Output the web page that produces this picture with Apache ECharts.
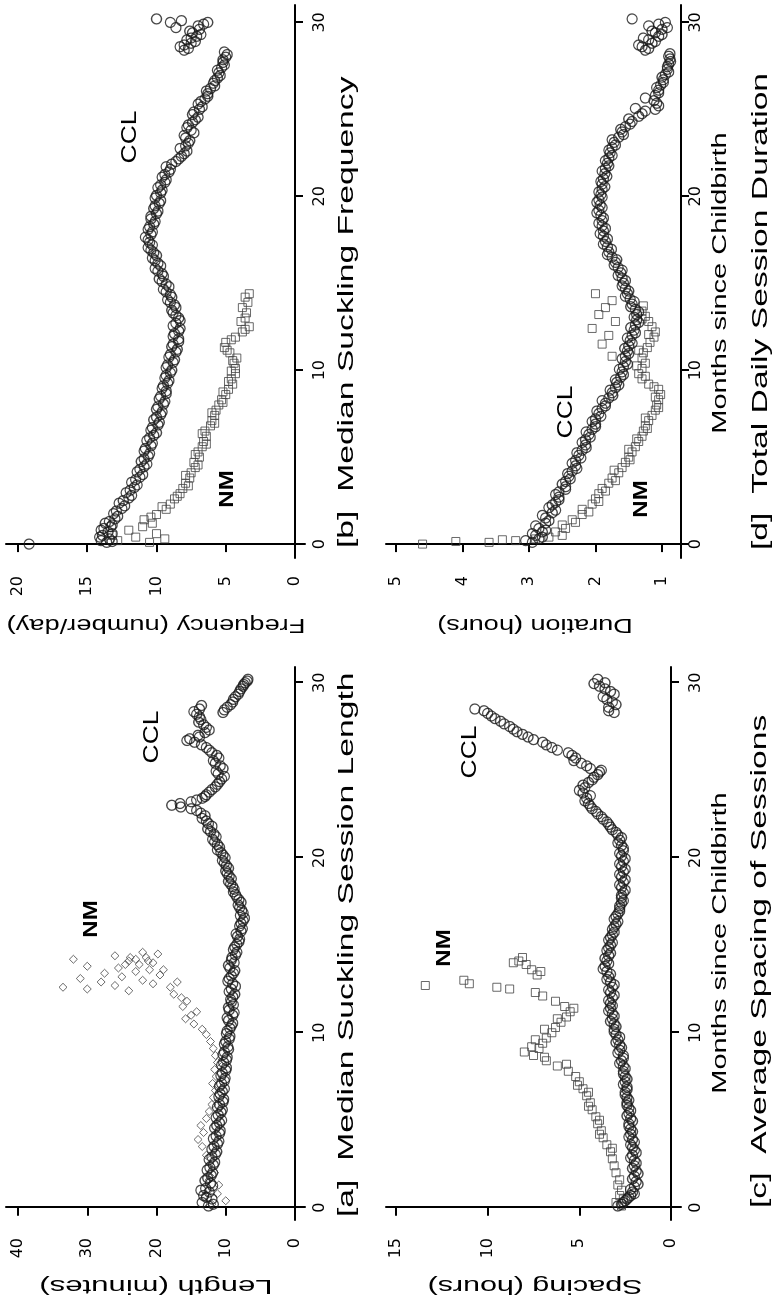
<!DOCTYPE html>
<html>
<head>
<meta charset="utf-8">
<script src="https://cdn.jsdelivr.net/npm/echarts@6/dist/echarts.min.js"></script>
<style>
  html, body { margin: 0; padding: 0; background: #fff; overflow: hidden; }
  body { width: 772px; height: 1305px; position: relative; }
  /* the figure is laid out upright (1305 x 772) and turned a quarter turn left */
  #chart {
    position: absolute; left: 0; top: 0;
    width: 1305px; height: 772px;
    transform-origin: 0 0;
    transform: translateY(1305px) rotate(-90deg);
  }
</style>
</head>
<body>
<div id="chart"></div>
<script>
'use strict';

const monthTicks = [0, 10, 20, 30];
const lengthTicks = [0, 10, 20, 30, 40];
const frequencyTicks = [0, 5, 10, 15, 20];
const spacingTicks = [0, 5, 10, 15];
const durationTicks = [1, 2, 3, 4, 5];

// [month, value] -- CCL points are read along both edges of the dense band
const lengthCCL = [[0.1,12.5],[0.3,13.4],[0.5,12.0],[0.7,13.2],[0.9,12.4],[1.1,12.9],[1.4,12.2],[1.7,12.6],[2.0,11.9],[2.3,12.3],[2.6,11.6],[2.9,12.0],[3.2,11.3],[3.5,11.7],[3.8,11.0],[4.1,11.4],[4.4,10.8],[4.7,11.3],[5.0,10.6],[5.3,11.1],[5.6,10.5],[5.9,10.9],[6.2,10.3],[6.5,10.8],[6.8,10.2],[7.1,10.6],[7.4,10.1],[7.7,10.5],[8.0,9.9],[8.3,10.3],[8.6,9.8],[8.9,10.2],[9.2,9.7],[9.5,10.0],[9.8,9.4],[10.1,9.8],[10.4,9.2],[10.7,9.6],[11.0,9.0],[11.3,9.5],[11.6,8.9],[11.9,9.3],[12.2,8.7],[12.5,9.2],[12.8,9.0],[13.1,9.5],[13.4,8.9],[13.7,9.4],[14.0,8.8],[14.3,9.1],[14.6,8.4],[14.9,8.7],[15.2,8.1],[15.5,8.3],[15.8,7.8],[16.1,8.0],[16.4,7.5],[16.7,7.9],[17.0,7.7],[17.3,8.2],[17.6,8.1],[17.9,8.6],[18.2,8.8],[18.5,9.3],[18.8,9.2],[19.1,9.8],[19.4,9.6],[19.7,10.2],[20.0,10.1],[20.3,10.7],[20.6,10.9],[20.9,11.6],[21.2,11.4],[21.5,12.2],[21.8,12.0],[22.1,12.8],[22.4,13.0],[22.7,14.2],[22.9,16.5],[23.0,17.8],[23.2,15.0],[23.4,13.4],[23.6,12.8],[23.9,12.0],[24.2,11.2],[24.5,10.6],[24.8,11.1],[25.1,10.4],[25.4,11.5],[25.7,11.0],[26.0,12.0],[26.3,12.8],[26.6,14.5],[26.8,15.2],[27.0,14.0],[27.3,12.4],[27.6,13.2],[27.9,13.6],[28.2,14.2],[28.5,13.8],[28.7,13.5],[28.3,10.4],[28.6,9.8],[28.9,9.0],[29.2,8.6],[29.5,8.0],[29.8,7.5],[30.0,7.2],[30.2,6.8]];
const lengthCCLEdge = [[0.2,11.8],[0.6,12.8],[1.0,13.6],[1.25,11.9],[1.55,13.0],[1.85,12.1],[2.15,12.7],[2.45,11.8],[2.75,12.4],[3.05,11.5],[3.35,12.0],[3.65,11.2],[3.95,11.8],[4.25,10.9],[4.55,11.6],[4.85,10.9],[5.15,11.4],[5.45,10.7],[5.75,11.2],[6.05,10.4],[6.35,11.0],[6.65,10.5],[6.95,10.9],[7.25,10.2],[7.55,10.7],[7.85,10.0],[8.15,10.6],[8.45,9.9],[8.75,10.4],[9.05,9.6],[9.35,10.2],[9.65,9.5],[9.95,9.9],[10.25,9.4],[10.55,9.0],[10.85,9.8],[11.15,8.8],[11.45,9.6],[11.75,9.2],[12.05,9.0],[12.35,9.5],[12.65,8.6],[12.95,9.7],[13.25,9.2],[13.55,8.7],[13.85,9.6],[14.15,9.2],[14.45,8.6],[14.75,8.9],[15.05,8.4],[15.35,8.0],[15.65,8.5],[15.95,7.6],[16.25,7.8],[16.55,7.3],[16.85,7.5],[17.15,8.0],[17.45,7.8],[17.75,8.4],[18.05,8.9],[18.35,9.0],[18.65,9.6],[18.95,9.5],[19.25,10.0],[19.55,9.9],[19.85,10.5],[20.15,10.4],[20.45,11.2],[20.75,11.2],[21.05,11.9],[21.35,11.7],[21.65,12.6],[21.95,12.5],[22.25,13.4],[22.55,13.6],[22.8,15.0],[23.1,16.6],[23.3,14.2],[23.5,13.0],[23.75,12.4],[24.05,11.5],[24.35,10.9],[24.65,10.2],[24.95,11.4],[25.25,10.8],[25.55,11.8],[25.85,11.3],[26.15,12.4],[26.45,13.5],[26.7,15.6],[26.9,13.8],[27.15,13.0],[27.45,12.8],[27.75,13.9],[28.05,13.8],[28.35,14.6],[28.45,10.2],[28.75,9.3],[29.05,8.9],[29.35,8.2],[29.65,7.8],[29.9,7.4],[30.1,6.9]];
const lengthNM = [[0.2,12.0],[0.4,10.0],[0.6,13.0],[0.8,11.2],[1.0,12.5],[1.3,11.0],[1.6,12.4],[2.0,11.6],[2.5,12.3],[3.0,12.8],[3.5,13.4],[3.9,14.0],[4.3,13.2],[4.7,13.6],[5.1,12.8],[5.5,12.4],[5.9,12.0],[6.3,11.8],[6.7,11.5],[7.1,11.9],[7.5,11.4],[7.9,11.6],[8.3,11.2],[8.7,11.5],[9.1,11.8],[9.5,12.2],[9.9,12.8],[10.2,13.4],[10.5,14.6],[10.8,15.8],[11.0,15.0],[11.2,14.2],[11.5,16.2],[11.8,15.6],[12.0,16.4],[12.4,24.0],[12.5,30.0],[12.6,33.5],[12.7,26.0],[12.8,20.5],[12.9,28.0],[13.0,22.0],[13.1,31.0],[13.2,25.0],[13.3,19.5],[13.4,27.5],[13.5,23.0],[13.6,21.0],[13.7,25.5],[13.8,30.0],[13.9,22.5],[14.0,20.5],[14.1,24.0],[14.2,23.0],[14.3,21.5],[14.4,26.0],[14.5,19.8],[14.6,22.0],[14.2,32.0],[12.2,17.5],[12.6,18.0],[13.9,24.5],[14.1,21.2],[14.3,23.8],[13.6,19.0],[12.9,17.0]];

const frequencyCCL = [[0.0,19.2],[0.1,13.6],[0.2,14.0],[0.3,13.4],[0.5,13.9],[0.7,13.5],[0.9,13.8],[1.1,13.2],[1.3,13.4],[1.6,12.8],[1.9,12.9],[2.2,12.3],[2.5,12.4],[2.8,11.8],[3.1,11.9],[3.4,11.4],[3.7,11.5],[4.0,11.0],[4.3,11.2],[4.6,10.7],[4.9,10.9],[5.2,10.5],[5.5,10.8],[5.8,10.3],[6.1,10.5],[6.4,10.0],[6.7,10.3],[7.0,9.8],[7.3,10.0],[7.6,9.6],[7.9,9.9],[8.2,9.4],[8.5,9.7],[8.8,9.3],[9.1,9.5],[9.4,9.1],[9.7,9.3],[10.0,8.9],[10.3,9.2],[10.6,8.7],[10.9,9.0],[11.2,8.5],[11.5,8.8],[11.8,8.4],[12.1,8.7],[12.4,8.3],[12.7,8.6],[13.0,8.4],[13.3,8.8],[13.6,8.6],[13.9,9.0],[14.2,8.9],[14.5,9.3],[14.8,9.1],[15.1,9.6],[15.4,9.5],[15.7,9.9],[16.0,9.7],[16.3,10.1],[16.6,10.0],[16.9,10.4],[17.2,10.3],[17.5,10.6],[17.8,10.4],[18.1,10.6],[18.4,10.2],[18.7,10.4],[19.0,10.0],[19.3,10.2],[19.6,9.8],[19.9,10.1],[20.2,9.7],[20.5,9.9],[20.8,9.4],[21.1,9.6],[21.4,9.1],[21.7,9.3],[22.0,8.6],[22.3,8.2],[22.6,7.8],[22.9,7.9],[23.2,7.6],[23.5,8.0],[23.8,7.5],[24.1,7.7],[24.4,7.2],[24.7,7.4],[25.0,6.9],[25.3,7.0],[25.6,6.5],[25.9,6.3],[26.2,6.1],[26.5,5.9],[26.8,5.6],[27.1,5.5],[27.4,5.3],[27.7,5.2],[28.0,5.0],[28.3,5.1],[28.4,8.0],[28.6,8.3],[28.8,7.5],[29.0,7.8],[29.2,7.1],[29.4,7.4],[29.6,6.9],[29.7,8.6],[29.9,6.6],[30.0,9.0],[30.1,8.2],[30.2,10.0]];
const frequencyCCLEdge = [[0.15,13.2],[0.4,14.1],[0.6,13.2],[0.8,14.0],[1.0,13.3],[1.2,13.7],[1.45,13.0],[1.75,13.1],[2.05,12.5],[2.35,12.7],[2.65,12.0],[2.95,12.2],[3.25,11.6],[3.55,11.8],[3.85,11.2],[4.15,11.4],[4.45,10.9],[4.75,11.1],[5.05,10.6],[5.35,10.9],[5.65,10.4],[5.95,10.7],[6.25,10.2],[6.55,10.4],[6.85,9.9],[7.15,10.2],[7.45,9.7],[7.75,10.0],[8.05,9.5],[8.35,9.8],[8.65,9.3],[8.95,9.6],[9.25,9.2],[9.55,9.4],[9.85,9.0],[10.15,9.3],[10.45,8.8],[10.75,9.1],[11.05,8.6],[11.35,8.9],[11.65,8.4],[11.95,8.8],[12.25,8.4],[12.55,8.8],[12.85,8.3],[13.15,8.6],[13.45,8.9],[13.75,8.7],[14.05,9.2],[14.35,9.0],[14.65,9.5],[14.95,9.3],[15.25,9.8],[15.55,9.6],[15.85,10.1],[16.15,9.9],[16.45,10.3],[16.75,10.2],[17.05,10.6],[17.35,10.5],[17.65,10.8],[17.95,10.3],[18.25,10.5],[18.55,10.1],[18.85,10.4],[19.15,9.9],[19.45,10.1],[19.75,9.7],[20.05,10.0],[20.35,9.6],[20.65,9.7],[20.95,9.3],[21.25,9.4],[21.55,9.0],[21.85,8.9],[22.15,8.4],[22.45,8.0],[22.75,8.3],[23.05,7.7],[23.35,7.9],[23.65,7.3],[23.95,7.8],[24.25,7.4],[24.55,7.0],[24.85,7.3],[25.15,6.7],[25.45,6.8],[25.75,6.3],[26.05,6.4],[26.35,5.8],[26.65,5.8],[26.95,5.4],[27.25,5.6],[27.55,5.1],[27.85,5.2],[28.15,4.9],[28.5,7.7],[28.7,8.0],[28.9,7.2],[29.1,7.5],[29.3,6.8],[29.5,7.6],[29.8,7.0],[30.0,6.3]];
const frequencyNM = [[0.1,10.5],[0.2,12.8],[0.3,9.4],[0.4,11.5],[0.5,13.2],[0.6,10.0],[0.8,12.0],[1.0,11.0],[1.2,10.3],[1.4,10.9],[1.7,10.0],[2.0,9.3],[2.3,9.0],[2.6,8.7],[2.9,8.3],[3.2,8.1],[3.5,7.9],[3.8,7.6],[4.1,7.5],[4.4,7.2],[4.7,7.3],[5.0,6.9],[5.3,7.0],[5.6,6.7],[5.9,6.6],[6.2,6.4],[6.5,6.5],[6.8,6.1],[7.1,6.0],[7.4,5.8],[7.7,5.7],[8.0,5.5],[8.3,5.3],[8.6,5.0],[8.9,4.8],[9.2,4.5],[9.5,4.6],[9.8,4.3],[10.1,4.3],[10.4,4.4],[10.7,4.2],[11.0,4.7],[11.3,5.1],[11.6,5.0],[11.9,4.3],[12.2,3.8],[12.5,3.3],[12.8,3.9],[13.0,3.6],[13.3,3.5],[13.6,3.8],[13.9,3.4],[14.2,3.6],[14.4,3.3],[1.55,10.4],[2.15,9.6],[2.75,8.5],[3.35,7.7],[3.95,7.9],[4.55,7.0],[5.15,7.2],[5.75,6.4],[6.35,6.7],[6.95,5.8],[7.55,6.0],[8.15,5.2],[8.75,5.2],[9.35,4.8],[9.95,4.6],[10.55,4.5],[11.15,4.9],[11.75,4.6],[12.35,3.6]];

const spacingCCL = [[0.1,2.9],[0.3,2.6],[0.5,2.4],[0.7,2.2],[0.9,2.1],[1.2,2.0],[1.5,1.9],[1.8,2.0],[2.1,1.9],[2.4,2.0],[2.7,2.0],[3.0,2.1],[3.3,2.0],[3.6,2.2],[3.9,2.1],[4.2,2.2],[4.5,2.2],[4.8,2.3],[5.1,2.2],[5.4,2.3],[5.7,2.3],[6.0,2.4],[6.3,2.4],[6.6,2.5],[6.9,2.4],[7.2,2.5],[7.5,2.5],[7.8,2.6],[8.1,2.6],[8.4,2.7],[8.7,2.6],[9.0,2.8],[9.3,2.8],[9.6,2.9],[9.9,3.0],[10.2,3.1],[10.5,3.1],[10.8,3.2],[11.1,3.2],[11.4,3.3],[11.7,3.3],[12.0,3.2],[12.3,3.3],[12.6,3.2],[12.9,3.3],[13.2,3.4],[13.5,3.5],[13.8,3.6],[14.1,3.5],[14.4,3.4],[14.7,3.5],[15.0,3.3],[15.3,3.4],[15.6,3.2],[15.9,3.2],[16.2,3.0],[16.5,3.1],[16.8,2.9],[17.1,2.8],[17.4,2.7],[17.7,2.7],[18.0,2.6],[18.3,2.7],[18.6,2.6],[18.9,2.7],[19.2,2.6],[19.5,2.7],[19.8,2.6],[20.1,2.7],[20.4,2.6],[20.7,2.7],[21.0,2.8],[21.3,2.9],[21.6,3.2],[21.9,3.4],[22.2,3.7],[22.5,4.0],[22.8,4.3],[23.1,4.5],[23.4,4.6],[23.7,4.8],[24.0,4.7],[24.3,4.5],[24.6,4.2],[24.9,3.9],[25.1,4.4],[25.4,4.9],[25.7,5.2],[26.0,5.6],[26.3,6.5],[26.6,7.0],[26.9,7.8],[27.2,8.4],[27.5,8.8],[27.8,9.3],[28.1,9.8],[28.4,10.2],[28.5,10.7],[28.3,3.1],[28.6,3.4],[28.9,3.2],[29.2,3.7],[29.5,3.3],[29.8,3.9],[30.0,3.6],[30.2,4.0]];
const spacingCCLEdge = [[0.2,2.7],[0.4,2.5],[0.6,2.3],[0.8,2.0],[1.05,2.2],[1.35,1.8],[1.65,2.1],[1.95,1.8],[2.25,2.1],[2.55,1.9],[2.85,2.2],[3.15,1.9],[3.45,2.1],[3.75,2.0],[4.05,2.3],[4.35,2.1],[4.65,2.3],[4.95,2.1],[5.25,2.4],[5.55,2.2],[5.85,2.4],[6.15,2.3],[6.45,2.5],[6.75,2.4],[7.05,2.6],[7.35,2.4],[7.65,2.6],[7.95,2.5],[8.25,2.8],[8.55,2.6],[8.85,2.9],[9.15,2.7],[9.45,3.0],[9.75,2.8],[10.05,3.1],[10.35,3.0],[10.65,3.3],[10.95,3.1],[11.25,3.4],[11.55,3.2],[11.85,3.4],[12.15,3.1],[12.45,3.4],[12.75,3.1],[13.05,3.5],[13.35,3.3],[13.65,3.7],[13.95,3.4],[14.25,3.6],[14.55,3.3],[14.85,3.4],[15.15,3.2],[15.45,3.3],[15.75,3.1],[16.05,3.1],[16.35,2.9],[16.65,3.0],[16.95,2.8],[17.25,2.8],[17.55,2.6],[17.85,2.7],[18.15,2.5],[18.45,2.8],[18.75,2.5],[19.05,2.8],[19.35,2.5],[19.65,2.8],[19.95,2.5],[20.25,2.8],[20.55,2.6],[20.85,2.9],[21.15,2.7],[21.45,3.0],[21.75,3.3],[22.05,3.5],[22.35,3.8],[22.65,4.1],[22.95,4.4],[23.25,4.7],[23.55,4.4],[23.85,5.0],[24.15,4.8],[24.45,4.3],[24.75,4.0],[25.0,3.8],[25.25,4.6],[25.55,5.3],[25.85,5.4],[26.15,6.2],[26.45,6.8],[26.75,7.5],[27.05,8.1],[27.35,8.6],[27.65,9.1],[27.95,9.6],[28.25,10.0],[28.4,3.4],[28.75,3.0],[29.05,3.5],[29.35,3.1],[29.65,3.6],[29.95,4.2]];
const spacingNM = [[0.1,2.7],[0.3,3.0],[0.5,2.6],[0.7,2.8],[1.0,2.7],[1.3,2.9],[1.6,2.8],[2.0,3.0],[2.4,3.1],[2.8,3.2],[3.2,3.3],[3.6,3.5],[4.0,3.7],[4.4,3.8],[4.8,4.0],[5.2,4.1],[5.6,4.3],[6.0,4.4],[6.4,4.6],[6.8,4.8],[7.2,5.0],[7.5,5.2],[7.8,5.6],[8.1,6.2],[8.4,6.8],[8.7,7.5],[8.9,8.0],[9.1,7.2],[9.4,7.0],[9.7,6.8],[10.0,6.5],[10.3,6.3],[10.6,6.0],[10.9,5.7],[11.2,5.5],[11.5,5.8],[11.8,6.3],[12.1,7.0],[12.3,7.4],[12.5,8.8],[12.6,9.5],[12.8,11.0],[13.0,11.3],[12.7,13.4],[13.3,7.3],[13.6,7.6],[13.9,7.9],[14.1,8.3],[14.3,8.1],[3.4,3.2],[4.2,3.9],[5.0,3.9],[5.8,4.5],[6.6,4.5],[7.0,5.1],[8.2,5.7],[8.6,6.9],[9.2,7.6],[9.6,7.4],[10.2,6.9],[10.8,6.2],[11.4,5.3],[13.5,7.1],[14.0,8.6]];

const durationCCL = [[0.1,2.95],[0.3,2.85],[0.5,2.9],[0.7,2.8],[0.9,2.85],[1.2,2.75],[1.5,2.75],[1.8,2.65],[2.1,2.7],[2.4,2.6],[2.7,2.55],[3.0,2.55],[3.3,2.45],[3.6,2.45],[3.9,2.4],[4.2,2.35],[4.5,2.3],[4.8,2.3],[5.1,2.25],[5.4,2.2],[5.7,2.15],[6.0,2.15],[6.3,2.1],[6.6,2.05],[6.9,2.0],[7.2,2.0],[7.5,1.95],[7.8,1.9],[8.1,1.85],[8.4,1.8],[8.7,1.75],[9.0,1.7],[9.3,1.68],[9.6,1.62],[9.9,1.6],[10.2,1.58],[10.5,1.55],[10.8,1.55],[11.1,1.52],[11.4,1.5],[11.7,1.48],[12.0,1.45],[12.3,1.42],[12.6,1.4],[12.9,1.38],[13.2,1.38],[13.5,1.4],[13.8,1.45],[14.1,1.48],[14.4,1.52],[14.7,1.55],[15.0,1.58],[15.3,1.6],[15.6,1.62],[15.9,1.66],[16.2,1.7],[16.5,1.75],[16.8,1.8],[17.1,1.82],[17.4,1.85],[17.7,1.88],[18.0,1.88],[18.3,1.9],[18.6,1.9],[18.9,1.92],[19.2,1.95],[19.5,1.93],[19.8,1.95],[20.1,1.92],[20.4,1.9],[20.7,1.9],[21.0,1.88],[21.3,1.86],[21.6,1.85],[21.9,1.82],[22.2,1.8],[22.5,1.78],[22.8,1.75],[23.1,1.72],[23.4,1.65],[23.7,1.6],[24.0,1.55],[24.3,1.45],[24.6,1.35],[24.9,1.25],[25.0,1.1],[25.2,1.05],[25.5,1.12],[25.8,1.1],[26.1,1.05],[26.4,1.02],[26.7,0.98],[27.0,0.95],[27.3,0.92],[27.6,0.9],[27.9,0.88],[28.2,0.88],[28.4,1.25],[28.6,1.3],[28.8,1.15],[29.0,1.2],[29.2,1.05],[29.4,1.1],[29.6,1.0],[29.8,1.2],[30.0,0.95],[30.2,1.45]];
const durationCCLEdge = [[0.2,3.05],[0.4,2.8],[0.6,2.95],[0.8,2.75],[1.05,2.9],[1.35,2.7],[1.65,2.8],[1.95,2.6],[2.25,2.65],[2.55,2.55],[2.85,2.6],[3.15,2.45],[3.45,2.5],[3.75,2.38],[4.05,2.42],[4.35,2.28],[4.65,2.35],[4.95,2.22],[5.25,2.28],[5.55,2.14],[5.85,2.2],[6.15,2.08],[6.45,2.14],[6.75,2.0],[7.05,2.05],[7.35,1.92],[7.65,1.98],[7.95,1.85],[8.25,1.9],[8.55,1.74],[8.85,1.78],[9.15,1.65],[9.45,1.7],[9.75,1.58],[10.05,1.64],[10.35,1.52],[10.65,1.6],[10.95,1.5],[11.25,1.56],[11.55,1.45],[11.85,1.52],[12.15,1.4],[12.45,1.47],[12.75,1.35],[13.05,1.42],[13.35,1.35],[13.65,1.47],[13.95,1.42],[14.25,1.55],[14.55,1.5],[14.85,1.6],[15.15,1.55],[15.45,1.66],[15.75,1.6],[16.05,1.72],[16.35,1.68],[16.65,1.82],[16.95,1.76],[17.25,1.88],[17.55,1.82],[17.85,1.93],[18.15,1.85],[18.45,1.95],[18.75,1.88],[19.05,1.98],[19.35,1.9],[19.65,1.98],[19.95,1.9],[20.25,1.95],[20.55,1.86],[20.85,1.92],[21.15,1.83],[21.45,1.9],[21.75,1.8],[22.05,1.85],[22.35,1.75],[22.65,1.8],[22.95,1.7],[23.25,1.75],[23.55,1.58],[23.85,1.62],[24.15,1.48],[24.45,1.5],[24.75,1.3],[25.05,1.4],[25.35,1.08],[25.65,1.25],[25.95,1.05],[26.25,1.08],[26.55,0.98],[26.85,1.0],[27.15,0.9],[27.45,0.92],[27.75,0.87],[28.05,0.9],[28.5,1.2],[28.7,1.35],[28.9,1.1],[29.1,1.28],[29.3,1.0],[29.5,1.15],[29.7,0.92],[29.9,1.05]];
const durationNM = [[0.0,4.6],[0.1,3.6],[0.2,3.2],[0.3,2.9],[0.4,2.7],[0.5,2.5],[0.7,2.6],[0.9,2.45],[1.1,2.5],[1.4,2.35],[1.7,2.2],[2.0,2.2],[2.3,2.05],[2.6,2.0],[2.9,1.95],[3.2,1.9],[3.5,1.8],[3.8,1.75],[4.1,1.65],[4.4,1.6],[4.7,1.55],[5.0,1.5],[5.3,1.45],[5.6,1.4],[5.9,1.35],[6.2,1.3],[6.5,1.28],[6.8,1.25],[7.1,1.2],[7.4,1.15],[7.7,1.1],[8.0,1.08],[8.3,1.05],[8.6,1.02],[8.9,1.05],[9.2,1.2],[9.5,1.3],[9.8,1.35],[10.1,1.3],[10.4,1.25],[10.7,1.3],[11.0,1.28],[11.3,1.22],[11.6,1.18],[11.9,1.12],[12.2,1.1],[12.5,1.15],[12.8,1.2],[13.1,1.25],[13.4,1.3],[13.7,1.28],[10.8,1.75],[11.5,1.9],[12.0,1.8],[12.4,2.05],[12.8,1.7],[13.2,1.95],[13.6,1.85],[14.0,1.75],[14.4,2.0],[0.15,4.1],[0.25,3.4],[1.25,2.3],[1.85,2.1],[2.45,1.95],[3.05,1.85],[3.65,1.7],[4.25,1.72],[4.85,1.48],[5.45,1.5],[6.05,1.38],[6.65,1.22],[7.25,1.25],[7.85,1.05],[8.45,1.1],[9.05,1.12],[9.65,1.25],[10.25,1.38],[11.15,1.35],[12.05,1.2],[12.95,1.3]];

const panels = [
  {title: '[a]  Median Suckling Session Length', name: 'Length (minutes)', ticks: lengthTicks,
   grid: {left: 85, top: 6, width: 553, height: 299}, xr: [-0.7, 30.9], yr: [-1.444, 41.733],
   ccl: lengthCCL.concat(lengthCCLEdge), nm: lengthNM, nmSymbol: 'diamond'},
  {title: '[b]  Median Suckling Frequency', name: 'Frequency (number/day)', ticks: frequencyTicks,
   grid: {left: 747, top: 6, width: 553, height: 299}, xr: [-0.8, 31.0], yr: [-0.722, 20.866],
   ccl: frequencyCCL.concat(frequencyCCLEdge), nm: frequencyNM, nmSymbol: 'rect'},
  {title: '[c]  Average Spacing of Sessions', name: 'Spacing (hours)', ticks: spacingTicks,
   grid: {left: 85, top: 386, width: 553, height: 295}, xr: [-0.7, 30.9], yr: [-0.545, 15.545],
   ccl: spacingCCL.concat(spacingCCLEdge), nm: spacingNM, nmSymbol: 'rect'},
  {title: '[d]  Total Daily Session Duration', name: 'Duration (hours)', ticks: durationTicks,
   grid: {left: 747, top: 386, width: 553, height: 295}, xr: [-0.8, 31.0], yr: [0.714, 5.15],
   ccl: durationCCL.concat(durationCCLEdge), nm: durationNM, nmSymbol: 'rect'}
];

const tickFont = {fontFamily: 'DejaVu Sans', fontSize: 16, color: '#000'};
const axisLine = {show: true, lineStyle: {color: '#000', width: 2}};

const grids = panels.map(p => p.grid);
const xAxes = panels.map((p, i) => ({
  type: 'value', gridIndex: i, min: p.xr[0], max: p.xr[1],
  axisLine: axisLine, splitLine: {show: false},
  axisTick: {show: true, length: 8, customValues: monthTicks, lineStyle: {width: 2, color: '#000'}},
  axisLabel: Object.assign({customValues: monthTicks, margin: 7}, tickFont)
}));
const yAxes = panels.map((p, i) => ({
  type: 'value', gridIndex: i, min: p.yr[0], max: p.yr[1],
  axisLine: axisLine, splitLine: {show: false},
  axisTick: {show: true, length: 8, customValues: p.ticks, lineStyle: {width: 2, color: '#000'}},
  axisLabel: Object.assign({customValues: p.ticks, margin: 18}, tickFont)
}));

const series = [];
panels.forEach((p, i) => {
  series.push({
    type: 'scatter', xAxisIndex: i, yAxisIndex: i, data: p.nm,
    symbol: p.nmSymbol, symbolSize: 8, silent: true,
    itemStyle: {color: 'rgba(0,0,0,0)', borderColor: '#444', borderWidth: 1, opacity: 0.8}
  });
  series.push({
    type: 'scatter', xAxisIndex: i, yAxisIndex: i, data: p.ccl,
    symbol: 'circle', symbolSize: 10, silent: true,
    itemStyle: {color: 'rgba(0,0,0,0)', borderColor: '#1a1a1a', borderWidth: 1.3}
  });
});

function label(text, x, y, opts) {
  const o = opts || {};
  return {
    type: 'text', x: x, y: y, rotation: o.rotation || 0,
    scaleX: o.scaleX || 1, silent: true,
    style: {
      text: text, fill: '#000',
      font: (o.bold ? 'bold ' : '') + (o.size || 22) + 'px "Liberation Sans", Arial, sans-serif',
      align: o.align || 'center', textAlign: o.align || 'center',
      verticalAlign: 'middle', textVerticalAlign: 'middle'
    }
  };
}

const graphics = [
  label(panels[0].title, 88, 347, {align: 'left', scaleX: 1.53}),
  label(panels[1].title, 757, 347, {align: 'left', scaleX: 1.53}),
  label(panels[2].title, 97, 760, {align: 'left', scaleX: 1.53}),
  label(panels[3].title, 755, 761, {align: 'left', scaleX: 1.53}),
  label('Months since Childbirth', 362, 720, {size: 20, scaleX: 1.45}),
  label('Months since Childbirth', 1022, 720, {size: 20, scaleX: 1.45}),
  label(panels[0].name, 19, 156, {size: 21, scaleX: 1.48, rotation: Math.PI / 2}),
  label(panels[1].name, 680, 156, {size: 21, scaleX: 1.30, rotation: Math.PI / 2}),
  label(panels[2].name, 19, 535, {size: 21, scaleX: 1.45, rotation: Math.PI / 2}),
  label(panels[3].name, 680, 535, {size: 21, scaleX: 1.29, rotation: Math.PI / 2}),
  label('CCL', 568, 152, {size: 22, scaleX: 1.2}),
  label('NM', 386, 91, {size: 20, scaleX: 1.2, bold: true}),
  label('CCL', 1168, 130, {size: 22, scaleX: 1.2}),
  label('NM', 816, 227, {size: 20, scaleX: 1.2, bold: true}),
  label('CCL', 553, 470, {size: 22, scaleX: 1.2}),
  label('NM', 357, 444, {size: 20, scaleX: 1.2, bold: true}),
  label('CCL', 893, 566, {size: 22, scaleX: 1.2}),
  label('NM', 806, 641, {size: 20, scaleX: 1.2, bold: true})
];

const chart = echarts.init(document.getElementById('chart'), null, {renderer: 'canvas'});
chart.setOption({
  animation: false,
  backgroundColor: '#fff',
  grid: grids,
  xAxis: xAxes,
  yAxis: yAxes,
  series: series,
  graphic: graphics
});
</script>
</body>
</html>
